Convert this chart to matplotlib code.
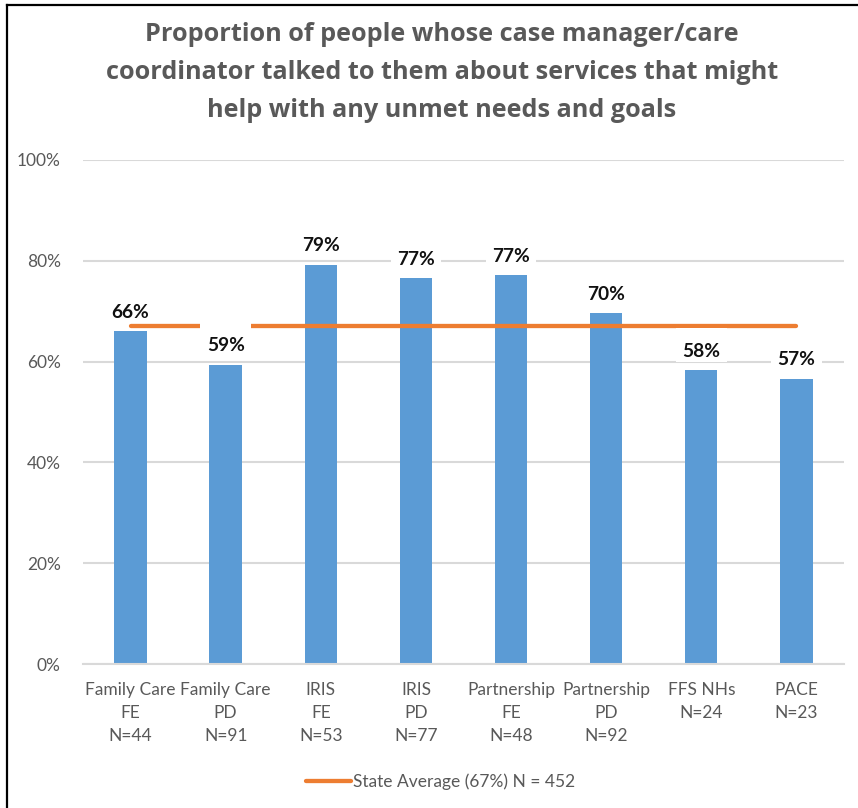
import matplotlib
matplotlib.use("Agg")
import matplotlib.pyplot as plt
from matplotlib.lines import Line2D
from matplotlib.path import Path

plt.rcParams["font.family"] = ["Lato", "DejaVu Sans"]

categories = ["Family Care\nFE\nN=44", "Family Care\nPD\nN=91", "IRIS\nFE\nN=53",
              "IRIS\nPD\nN=77", "Partnership\nFE\nN=48", "Partnership\nPD\nN=92",
              "FFS NHs\nN=24", "PACE\nN=23"]
pct = [66.0, 59.4, 79.2, 76.6, 77.1, 69.6, 58.3, 56.6]
state_avg = 67
state_n = 452
yticks = [0, 20, 40, 60, 80, 100]

TITLE = ("Proportion of people whose case manager/care\n"
         "coordinator talked to them about services that might\n"
         "help with any unmet needs and goals")

BAR_COLOR = "#5B9BD5"
LINE_COLOR = "#ED7D31"
GRID_COLOR = "#D9D9D9"
TEXT_GRAY = "#595959"


def label_box(x0, y0, width, height, mutation_size):
    # white label background, taller above the text than below it
    px = 0.34 * mutation_size
    pb = 0.10 * mutation_size
    pt = 0.765 * mutation_size
    x1, y1 = x0 + width + px, y0 + height + pt
    x0, y0 = x0 - px, y0 - pb
    return Path([(x0, y0), (x1, y0), (x1, y1), (x0, y1), (x0, y0)], closed=True)


fig = plt.figure(figsize=(8.58, 8.08), dpi=100)
ax = fig.add_axes([0.0967, 0.1782, 0.887, 0.6238])

x = list(range(len(categories)))
ax.bar(x, pct, width=0.34, color=BAR_COLOR, zorder=2)

# state average line across the category centres
ax.plot([x[0], x[-1]], [state_avg, state_avg], color=LINE_COLOR, lw=3.1,
        solid_capstyle="round", zorder=3)

for xi, v in zip(x, pct):
    ax.annotate(f"{round(v):d}%", (xi, v), xytext=(0, 7.5), textcoords="offset points",
                ha="center", va="bottom", fontsize=13.8, fontweight="bold", color="#111111",
                bbox=dict(boxstyle=label_box, fc="white", ec="none"), zorder=4)

ax.set_xlim(-0.5, 7.5)
ax.set_ylim(0, 100)
ax.set_yticks(yticks)
ax.set_yticklabels([f"{t}%" for t in yticks])
ax.set_xticks(x)
ax.set_xticklabels(categories, linespacing=1.55)
ax.tick_params(axis="both", length=0, labelsize=12.5, labelcolor=TEXT_GRAY)
ax.tick_params(axis="y", pad=16)
ax.tick_params(axis="x", pad=13)
ax.grid(axis="y", color=GRID_COLOR, lw=1.5, zorder=0)
for side in ["top", "right", "left"]:
    ax.spines[side].set_visible(False)
ax.spines["bottom"].set_color(GRID_COLOR)
ax.spines["bottom"].set_linewidth(1.5)

fig.text(0.515, 0.973, TITLE, ha="center", va="top", fontsize=18.2, fontweight="bold",
         color=TEXT_GRAY, linespacing=1.68, family=["Open Sans", "DejaVu Sans"])

handle = Line2D([], [], color=LINE_COLOR, lw=3.1, solid_capstyle="round")
fig.legend([handle], [f"State Average ({state_avg}%) N = {state_n}"],
           loc="center", bbox_to_anchor=(0.513, 0.033), frameon=False,
           fontsize=12.5, labelcolor=TEXT_GRAY, handlelength=2.6, handletextpad=0.1)

# frame edges along the top and left
fig.add_artist(Line2D([0.008, 1.0], [0.9935, 0.9935], color="black", lw=1.6,
                      transform=fig.transFigure))
fig.add_artist(Line2D([0.008, 0.008], [0.0, 0.9935], color="black", lw=1.6,
                      transform=fig.transFigure))

fig.savefig("out.png", dpi=100)
